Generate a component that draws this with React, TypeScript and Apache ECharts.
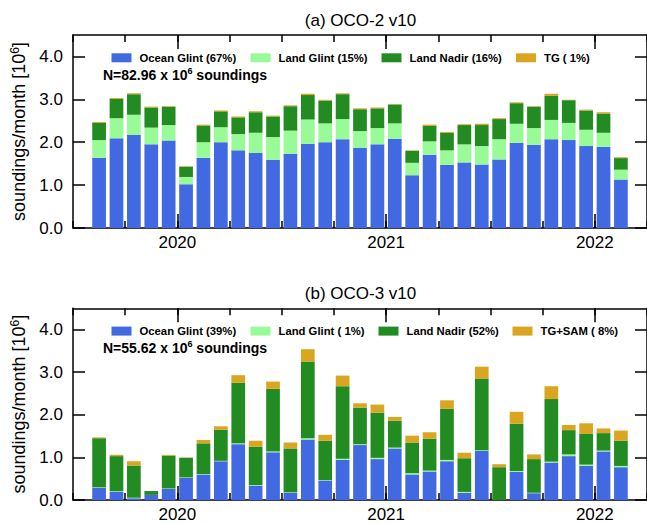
import React, { useEffect, useRef } from 'react';
import * as echarts from 'echarts';

const months = [
  '2019-08', '2019-09', '2019-10', '2019-11', '2019-12',
  '2020-01', '2020-02', '2020-03', '2020-04', '2020-05', '2020-06',
  '2020-07', '2020-08', '2020-09', '2020-10', '2020-11', '2020-12',
  '2021-01', '2021-02', '2021-03', '2021-04', '2021-05', '2021-06',
  '2021-07', '2021-08', '2021-09', '2021-10', '2021-11', '2021-12',
  '2022-01', '2022-02',
];
// axis spans Jul 2019 .. Mar 2022 (empty months at both ends)
const axisMonths = ['2019-07', ...months, '2022-03'];

// OCO-2 v10 (10^6 soundings / month)
const oco2Ocean = [1.64, 2.09, 2.17, 1.95, 2.04, 1.02, 1.64, 2.00, 1.81, 1.75, 1.59, 1.73, 1.96, 2.00, 2.07, 1.87, 1.95, 2.08, 1.23, 1.71, 1.47, 1.53, 1.48, 1.60, 1.99, 1.94, 2.07, 2.05, 1.91, 1.89, 1.13];
const oco2LandGlint = [0.41, 0.47, 0.47, 0.39, 0.36, 0.17, 0.36, 0.35, 0.38, 0.47, 0.53, 0.54, 0.57, 0.44, 0.47, 0.39, 0.38, 0.36, 0.29, 0.31, 0.34, 0.42, 0.43, 0.47, 0.44, 0.39, 0.45, 0.40, 0.38, 0.33, 0.23];
const oco2LandNadir = [0.40, 0.45, 0.48, 0.47, 0.43, 0.24, 0.39, 0.37, 0.39, 0.48, 0.48, 0.57, 0.57, 0.53, 0.58, 0.51, 0.46, 0.44, 0.28, 0.36, 0.41, 0.45, 0.49, 0.47, 0.48, 0.50, 0.56, 0.53, 0.45, 0.45, 0.27];
const oco2TG = [0.02, 0.02, 0.02, 0.02, 0.01, 0.01, 0.02, 0.02, 0.02, 0.02, 0.02, 0.02, 0.03, 0.02, 0.02, 0.02, 0.02, 0.01, 0.01, 0.03, 0.02, 0.02, 0.03, 0.02, 0.02, 0.01, 0.05, 0.01, 0.02, 0.03, 0.02];

// OCO-3 v10
const oco3Ocean = [0.29, 0.20, 0.04, 0.12, 0.26, 0.52, 0.60, 0.91, 1.31, 0.34, 1.12, 0.17, 1.42, 0.46, 0.94, 1.29, 0.96, 1.21, 0.60, 0.67, 0.91, 0.17, 1.15, 0.00, 0.66, 0.16, 0.88, 1.03, 0.80, 1.14, 0.77];
const oco3LandGlint = [0.01, 0.01, 0.01, 0.00, 0.01, 0.01, 0.01, 0.01, 0.02, 0.01, 0.02, 0.01, 0.03, 0.01, 0.03, 0.02, 0.03, 0.02, 0.03, 0.02, 0.03, 0.02, 0.02, 0.00, 0.02, 0.01, 0.02, 0.04, 0.03, 0.02, 0.03];
const oco3LandNadir = [1.15, 0.82, 0.76, 0.09, 0.77, 0.46, 0.72, 0.73, 1.42, 0.90, 1.47, 1.03, 1.80, 0.92, 1.70, 0.86, 1.06, 0.63, 0.72, 0.75, 1.20, 0.79, 1.68, 0.77, 1.11, 0.79, 1.47, 0.57, 0.72, 0.41, 0.59];
const oco3TGSAM = [0.02, 0.03, 0.10, 0.00, 0.02, 0.01, 0.08, 0.08, 0.18, 0.14, 0.17, 0.14, 0.29, 0.14, 0.25, 0.10, 0.19, 0.09, 0.16, 0.15, 0.20, 0.13, 0.28, 0.07, 0.28, 0.11, 0.30, 0.12, 0.25, 0.11, 0.24];

const yearLabels = ['2020', '2021', '2022'];
const yTickValues = [0, 1, 2, 3, 4];

const oco2Names = ['Ocean Glint (67%)', 'Land Glint (15%)', 'Land Nadir (16%)', 'TG ( 1%)'];
const oco3Names = ['Ocean Glint (39%)', 'Land Glint ( 1%)', 'Land Nadir (52%)', 'TG+SAM ( 8%)'];
const panelTitles = ['(a) OCO-2 v10', '(b) OCO-3 v10'];
const totals = ['82.96', '55.62'];

const FONT = '"Liberation Sans", Arial, Helvetica, sans-serif';
const COLORS = ['#4169E1', '#98FB98', '#228B22', '#DAA520'];

const PANEL_TOP = [35, 308.3];
const PANEL_H = [193, 193.4];
const GRID_LEFT = 73;
const GRID_W = 575;
const LEGEND_X = [
  [111.5, 250.5, 381.5, 516],
  [111.5, 250.5, 378.5, 512.5],
];

// month offset (months since Jan 2020) of a 'YYYY-MM' string's start
function monthStart(m: string): number {
  const [y, mo] = m.split('-').map(Number);
  return (y - 2020) * 12 + (mo - 1);
}
const X_MIN = monthStart(axisMonths[0]);
const X_MAX = monthStart(axisMonths[axisMonths.length - 1]) + 1;
const yearPos = yearLabels.map((y) => monthStart(y + '-01'));

export default function App() {
  const ref = useRef<HTMLDivElement>(null);
  useEffect(() => {
    if (!ref.current) return;
    const chart = echarts.init(ref.current, null, { renderer: 'svg' });
    const line = { color: '#000', width: 1.5 };
    const grids: any[] = [];
    const xAxes: any[] = [];
    const yAxes: any[] = [];
    const series: any[] = [];
    const legends: any[] = [];
    const graphics: any[] = [];
    const panels = [
      { names: oco2Names, data: [oco2Ocean, oco2LandGlint, oco2LandNadir, oco2TG] },
      { names: oco3Names, data: [oco3Ocean, oco3LandGlint, oco3LandNadir, oco3TGSAM] },
    ];
    panels.forEach((p, pi) => {
      grids.push({ left: GRID_LEFT, top: PANEL_TOP[pi], width: GRID_W, height: PANEL_H[pi] });
      // hidden category axis carrying the bars
      xAxes.push({
        type: 'category', gridIndex: pi, data: axisMonths, position: 'bottom',
        boundaryGap: true, show: false,
        axisLine: { show: false, onZero: false }, axisTick: { show: false }, axisLabel: { show: false },
      });
      const baseX = { type: 'value', gridIndex: pi, min: X_MIN, max: X_MAX, splitLine: { show: false } };
      // bottom major (years)
      xAxes.push({
        ...baseX, position: 'bottom',
        axisLine: { show: true, lineStyle: line, onZero: false },
        axisTick: { show: true, inside: true, length: 14, customValues: yearPos, lineStyle: line },
        axisLabel: {
          show: true, customValues: yearPos, margin: 6,
          formatter: (v: number) => yearLabels[yearPos.indexOf(v)] ?? '',
          color: '#000', fontSize: 17, fontFamily: FONT,
        },
      });
      // bottom minor (quarters)
      xAxes.push({
        ...baseX, position: 'bottom', interval: 3,
        axisLine: { show: false, onZero: false },
        axisTick: { show: true, inside: true, length: 7, lineStyle: line },
        axisLabel: { show: false },
      });
      // top major
      xAxes.push({
        ...baseX, position: 'top',
        axisLine: { show: true, lineStyle: line, onZero: false },
        axisTick: { show: true, inside: true, length: 14, customValues: yearPos, lineStyle: line },
        axisLabel: { show: false },
      });
      // top minor
      xAxes.push({
        ...baseX, position: 'top', interval: 3,
        axisLine: { show: false, onZero: false },
        axisTick: { show: true, inside: true, length: 7, lineStyle: line },
        axisLabel: { show: false },
      });
      yAxes.push({
        type: 'value', gridIndex: pi, position: 'left', min: 0, max: 4.5, interval: 1,
        splitLine: { show: false },
        axisLine: { show: true, lineStyle: line, onZero: false },
        axisTick: { show: true, inside: true, length: 12, lineStyle: line, customValues: yTickValues },
        axisLabel: {
          show: true, margin: 10, customValues: yTickValues,
          formatter: (v: number) => v.toFixed(1),
          color: '#000', fontSize: 17, fontFamily: FONT,
        },
        name: '{a|soundings/month [10}{s|6}{a|]}',
        nameLocation: 'middle', nameRotate: 90, nameGap: 43,
        nameTextStyle: {
          color: '#000', fontSize: 18, fontFamily: FONT,
          rich: {
            a: { color: '#000', fontSize: 18, fontFamily: FONT, lineHeight: 20 },
            s: { color: '#000', fontSize: 12, fontFamily: FONT, lineHeight: 12, verticalAlign: 'top' },
          },
        },
      });
      yAxes.push({
        type: 'value', gridIndex: pi, position: 'right', min: 0, max: 4.5, interval: 1,
        splitLine: { show: false },
        axisLine: { show: true, lineStyle: line, onZero: false },
        axisTick: { show: true, inside: true, length: 12, lineStyle: line, customValues: yTickValues },
        axisLabel: { show: false },
      });
      p.names.forEach((name, si) => {
        series.push({
          type: 'bar', name, stack: 'panel' + pi,
          xAxisIndex: pi * 5, yAxisIndex: pi * 2,
          barWidth: 13.7,
          itemStyle: { color: COLORS[si] },
          data: axisMonths.map((m) => {
            const i = months.indexOf(m);
            return i >= 0 ? p.data[si][i] : '-';
          }),
        });
        legends.push({
          data: [name], left: LEGEND_X[pi][si], top: PANEL_TOP[pi] + 22.8 - 6,
          padding: 0, itemWidth: 20, itemHeight: 9, icon: 'rect', selectedMode: false,
          textStyle: {
            color: '#000', fontSize: 11.3, fontWeight: 'bold', fontFamily: FONT, lineHeight: 12,
            padding: [0, 0, 0, 3],
          },
        });
      });
      graphics.push({
        type: 'text', x: GRID_LEFT + GRID_W / 2, y: PANEL_TOP[pi] - 15,
        style: { text: panelTitles[pi], font: `17px ${FONT}`, fill: '#000', align: 'center', verticalAlign: 'middle' },
      });
      graphics.push({
        type: 'text', x: 103, y: PANEL_TOP[pi] + 40,
        style: {
          text: `{b|N=${totals[pi]} x 10}{s|6}{b| soundings}`,
          fill: '#000', verticalAlign: 'middle',
          rich: {
            b: { fontSize: 14, fontWeight: 'bold', fontFamily: FONT, fill: '#000', lineHeight: 18 },
            s: { fontSize: 9, fontWeight: 'bold', fontFamily: FONT, fill: '#000', lineHeight: 9, verticalAlign: 'top' },
          },
        },
      });
    });
    chart.setOption({
      animation: false,
      backgroundColor: '#fff',
      grid: grids,
      xAxis: xAxes,
      yAxis: yAxes,
      series,
      legend: legends,
      graphic: graphics,
    });
    return () => chart.dispose();
  }, []);
  return <div ref={ref} style={{ position: 'fixed', left: 0, top: 0, width: 647, height: 523 }} />;
}
